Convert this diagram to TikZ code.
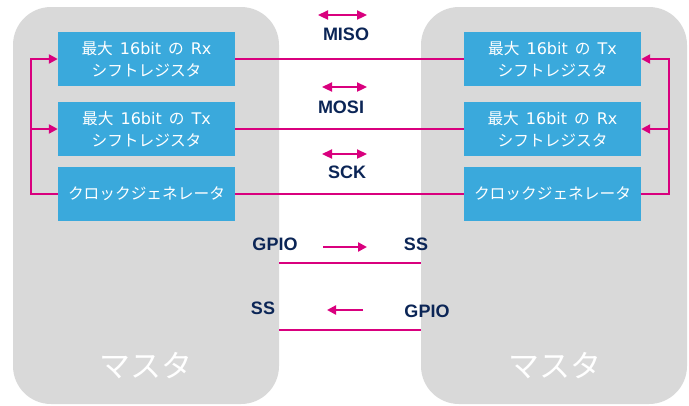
\documentclass[tikz,border=0pt]{standalone}
\usepackage{fontspec}
\setmainfont{Liberation Sans}
\newfontfamily\jp{Noto Sans CJK JP}
\newfontfamily\latf{DejaVu Sans}
\newcommand\LtxT[1]{{\latf\fontsize{16}{22}\selectfont #1}}
\newcommand\Sp{\hspace{7pt}}
\usetikzlibrary{arrows.meta}
\definecolor{panelgrey}{HTML}{D9D9D9}
\definecolor{boxblue}{HTML}{3AA9DC}
\definecolor{sigmag}{HTML}{D9007E}
\definecolor{navy}{HTML}{0B2556}
\begin{document}
\begin{tikzpicture}[x=1pt,y=-1pt,
  panel/.style={fill=panelgrey, draw=none, rounded corners=38, minimum width=266, minimum height=397, inner sep=0},
  regbox/.style={fill=boxblue, text=white, minimum width=177, minimum height=54, inner sep=0, align=center, font=\jp\fontsize{15.7}{22}\selectfont},
  sig/.style={draw=sigmag, line width=2.3},
  tip/.style={-{Triangle[length=9,width=9]}},
  dtip/.style={{Triangle[length=10,width=9]}-{Triangle[length=10,width=9]}},
  lbl/.style={text=navy, inner sep=0, font=\fontsize{18}{20}\selectfont\bfseries},
  mst/.style={text=white, inner sep=0, font=\jp\fontsize{31}{31}\selectfont}]
\useasboundingbox (0,0) rectangle (689,405);
% panels
\node[panel] (lm) at (146,205.5) {};
\node[panel] (rm) at (554,205.5) {};
% left boxes
\node[regbox] (lrx) at (146.5,59) {最大\Sp\LtxT{16bit}\Sp の\Sp\LtxT{Rx}\\シフトレジスタ};
\node[regbox] (ltx) at (146.5,129) {最大\Sp\LtxT{16bit}\Sp の\Sp\LtxT{Tx}\\シフトレジスタ};
\node[regbox] (lclk) at (146.5,194) {クロックジェネレータ};
% right boxes
\node[regbox] (rtx) at (552.5,59) {最大\Sp\LtxT{16bit}\Sp の\Sp\LtxT{Tx}\\シフトレジスタ};
\node[regbox] (rrx) at (552.5,129) {最大\Sp\LtxT{16bit}\Sp の\Sp\LtxT{Rx}\\シフトレジスタ};
\node[regbox] (rclk) at (552.5,194) {クロックジェネレータ};
% bus lines
\draw[sig] (lrx.east) -- (rtx.west);
\draw[sig] (ltx.east) -- (rrx.west);
\draw[sig] (lclk.east) -- (rclk.west);
% clock brackets
\coordinate (lb) at (31,194);
\coordinate (rb) at (669,194);
\draw[sig,tip] (lclk.west) -- (lb) |- (lrx.west);
\draw[sig,tip] (lb |- ltx.west) -- (ltx.west);
\draw[sig,tip] (rclk.east) -- (rb) |- (rtx.east);
\draw[sig,tip] (rb |- rrx.east) -- (rrx.east);
% signal labels
\coordinate (a1l) at (318,15); \coordinate (a1r) at (367,15);
\coordinate (a2l) at (322,87); \coordinate (a2r) at (367,87);
\coordinate (a3l) at (322,154); \coordinate (a3r) at (367,154);
\draw[sig,dtip] (a1l) -- (a1r);
\draw[sig,dtip] (a2l) -- (a2r);
\draw[sig,dtip] (a3l) -- (a3r);
\node[lbl] (miso) at (346,34) {MISO};
\node[lbl] (mosi) at (341,107) {MOSI};
\node[lbl] (sck) at (347,172) {SCK};
% SS lines
\coordinate (s1l) at (279,263); \coordinate (s1r) at (421,263);
\coordinate (s2l) at (279,330); \coordinate (s2r) at (421,330);
\draw[sig] (s1l) -- (s1r);
\draw[sig] (s2l) -- (s2r);
\coordinate (g1a) at (323,247); \coordinate (g1b) at (367,247);
\coordinate (g2a) at (363,310); \coordinate (g2b) at (327,310);
\draw[sig,tip] (g1a) -- (g1b);
\draw[sig,tip] (g2a) -- (g2b);
\node[lbl] (gpio1) at (275,244) {GPIO};
\node[lbl] (ss1) at (416,244) {SS};
\node[lbl] (ss2) at (263,308) {SS};
\node[lbl] (gpio2) at (427,311) {GPIO};
% master labels
\node[mst] (lml) at (146,366) {マスタ};
\node[mst] (rml) at (555,366) {マスタ};
\end{tikzpicture}
\end{document}
